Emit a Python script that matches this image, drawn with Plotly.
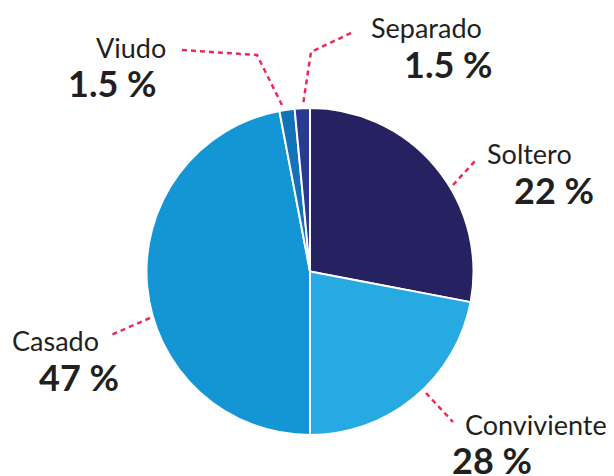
import plotly.graph_objects as go

# Data (clockwise from 12 o'clock, as drawn)
categories = ["Soltero", "Conviviente", "Casado", "Viudo", "Separado"]
slice_values = [28, 22, 47, 1.5, 1.5]
pct_labels = ["22 %", "28 %", "47 %", "1.5 %", "1.5 %"]
colors = ["#262262", "#27AAE1", "#1496D4", "#1273B9", "#2B3A91"]

W, H = 614, 476
OFF = 8  # page body margin
def px(x):
    return (x - OFF) / W
def py(y):
    return 1 - (y - OFF) / H

cx, cy, r = 310, 271.5, 163.5

fig = go.Figure(go.Pie(
    labels=categories,
    values=slice_values,
    sort=False,
    direction="clockwise",
    rotation=0,
    textinfo="none",
    hoverinfo="label+value",
    marker=dict(colors=colors, line=dict(color="white", width=2)),
    showlegend=False,
    domain=dict(x=[px(cx - r), px(cx + r)], y=[py(cy + r), py(cy - r)]),
))

# label layout: (name center x, name baseline y, pct center x, pct baseline y)
label_pos = {
    "Soltero": (529.5, 163, 554, 203),
    "Conviviente": (535.5, 434, 491.5, 473),
    "Casado": (55, 350, 78.5, 390),
    "Viudo": (131, 57, 112.5, 96),
    "Separado": (426.5, 37, 448.5, 77),
}

name_size = 27
pct_size = 36
annotations = []
for cat, pct in zip(categories, pct_labels):
    nx, ny, qx, qy = label_pos[cat]
    annotations.append(dict(
        x=px(nx), y=py(ny - 0.36 * name_size), xref="paper", yref="paper",
        text=cat, showarrow=False, xanchor="center", yanchor="middle",
        font=dict(family="Lato", size=name_size, color="#231F20"),
    ))
    annotations.append(dict(
        x=px(qx), y=py(qy - 0.36 * pct_size), xref="paper", yref="paper",
        text="<b>" + pct + "</b>", showarrow=False, xanchor="center", yanchor="middle",
        font=dict(family="Lato", size=pct_size, color="#231F20"),
    ))

# leader lines (pixel coords)
leaders = [
    [(453, 185), (476, 160)],
    [(426, 393), (453, 422)],
    [(150, 318), (111, 335)],
    [(182, 50), (257, 55), (282, 105)],
    [(351, 33), (311, 52), (303, 105)],
]
shapes = []
for pts in leaders:
    path = "M " + " L ".join(f"{px(x)},{py(y)}" for x, y in pts)
    shapes.append(dict(type="path", path=path, xref="paper", yref="paper",
                       line=dict(color="#EC2A5A", width=2.5, dash="5px,4px")))

fig.update_layout(
    width=W, height=H,
    margin=dict(l=0, r=0, t=0, b=0),
    paper_bgcolor="white", plot_bgcolor="white",
    annotations=annotations, shapes=shapes,
)

fig.write_html("out.html")
